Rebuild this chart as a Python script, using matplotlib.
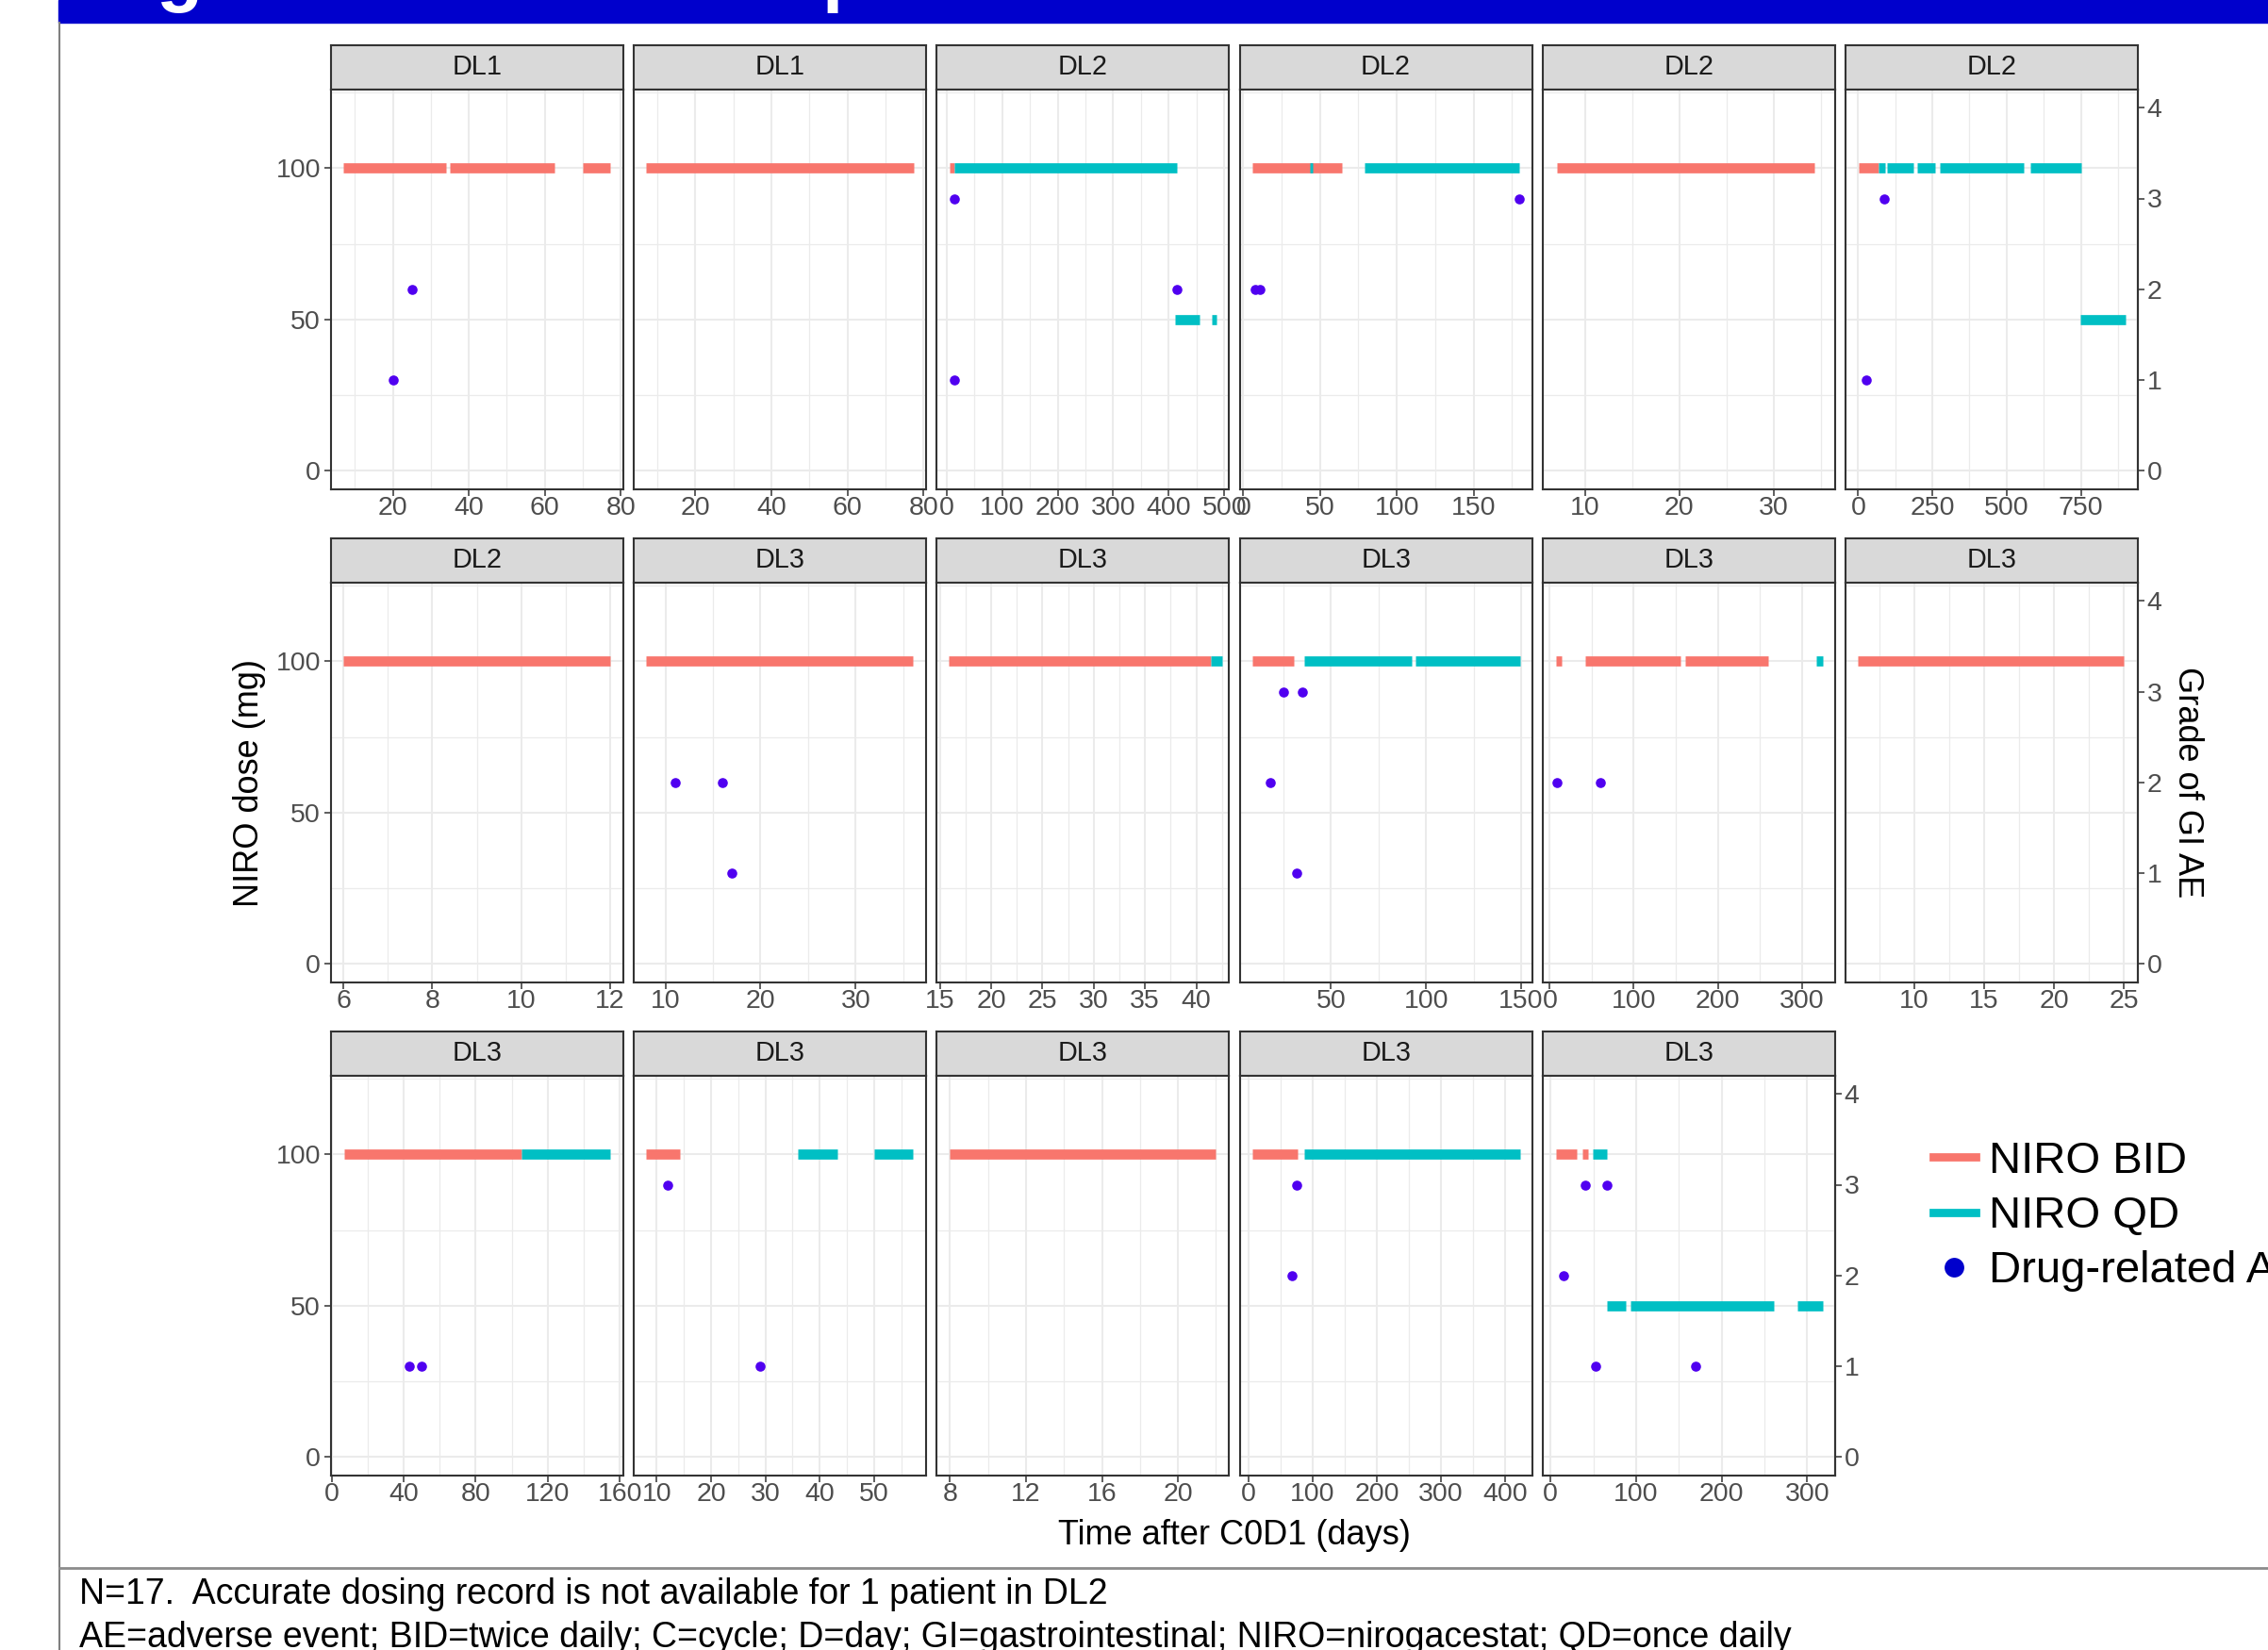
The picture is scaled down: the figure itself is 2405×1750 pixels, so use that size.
import matplotlib
matplotlib.use("Agg")
import matplotlib.pyplot as plt
from matplotlib.lines import Line2D
from matplotlib.patches import Rectangle
import numpy as np

plt.rcParams['font.family'] = ['Liberation Sans', 'DejaVu Sans']

BID_COLOR = '#F8766D'
QD_COLOR = '#00BFC4'
AE_COLOR = '#5000F0'

# one entry per patient panel, left to right, top to bottom
dose_level = ['DL1', 'DL1', 'DL2', 'DL2', 'DL2', 'DL2',
              'DL2', 'DL3', 'DL3', 'DL3', 'DL3', 'DL3',
              'DL3', 'DL3', 'DL3', 'DL3', 'DL3']

# dosing periods: (start day, end day, dose mg)
bid_spans = [
    [(7, 34, 100), (35, 62.5, 100), (70, 77.3, 100)],
    [(7, 77.4, 100)],
    [(5.5, 14, 100)],
    [(6, 64.5, 100)],
    [(7, 34.3, 100)],
    [(1, 69.5, 100)],
    [(6, 12, 100)],
    [(8, 36, 100)],
    [(15.9, 41.4, 100)],
    [(8.7, 30.6, 100)],
    [(7.2, 14.4, 100), (42.4, 155.7, 100), (161.4, 260.4, 100)],
    [(6, 25, 100)],
    [(7, 105.4, 100)],
    [(8, 14.2, 100)],
    [(8, 22, 100)],
    [(5.8, 76.5, 100)],
    [(6.3, 30.9, 100), (37.3, 44.3, 100)],
]
qd_spans = [
    [],
    [],
    [(14, 414, 100), (411, 455, 50), (477, 485.7, 50)],
    [(43.5, 45.5, 100), (79, 180, 100)],
    [],
    [(69.5, 89.7, 100), (98.7, 186.4, 100), (197.8, 259.5, 100),
     (276.4, 556.6, 100), (580, 753, 100), (749, 900, 50)],
    [],
    [],
    [(41.4, 42.5, 100)],
    [(36, 92.3, 100), (94.2, 149.5, 100)],
    [(317.6, 324.8, 100)],
    [],
    [(105.4, 154.6, 100)],
    [(35.9, 43.2, 100), (50, 57.2, 100)],
    [],
    [(86.8, 423.6, 100)],
    [(49.9, 66, 100), (66, 87.8, 50), (93.4, 261, 50), (288.5, 317.7, 50)],
]

# drug-related GI adverse events: onset day and grade
ae_day = [
    [20, 25], [], [14, 15, 414], [8, 11, 180], [], [88, 26],
    [], [11, 16, 17], [], [25, 35, 18, 32], [9, 60], [],
    [43, 50], [12, 29], [], [75, 67], [41, 66, 15, 53, 170],
]
ae_grade = [
    [1, 2], [], [3, 1, 2], [2, 2, 3], [], [3, 1],
    [], [2, 2, 1], [], [3, 3, 2, 1], [2, 2], [],
    [1, 1], [3, 1], [], [3, 2], [3, 3, 2, 1, 1],
]

x_ticks = [
    [20, 40, 60, 80], [20, 40, 60, 80], [0, 100, 200, 300, 400, 500],
    [0, 50, 100, 150], [10, 20, 30], [0, 250, 500, 750],
    [6, 8, 10, 12], [10, 20, 30], [15, 20, 25, 30, 35, 40],
    [50, 100, 150], [0, 100, 200, 300], [10, 15, 20, 25],
    [0, 40, 80, 120, 160], [10, 20, 30, 40, 50], [8, 12, 16, 20],
    [0, 100, 200, 300, 400], [0, 100, 200, 300],
]
x_ranges = [
    (3.7, 80.7), (3.8, 80.75), (-17.4, 508.7), (-2.3, 188.1), (5.5, 36.5), (-42.6, 942),
    (5.72, 12.3), (6.7, 37.4), (14.7, 43.2), (2.0, 155.7), (-8.5, 339.5), (5.1, 26.0),
    (-0.4, 162.0), (5.8, 59.6), (7.3, 22.7), (-14, 442.5), (-9.2, 332.3),
]

GRADE_PER_MG = 1 / 30

W, H = 2405, 1750
fig = plt.figure(figsize=(W / 100, H / 100), dpi=100)


def px_box(left, top, width, height):
    return [left / W, 1 - (top + height) / H, width / W, height / H]


PANEL_W, GAP = 310, 11.2
STRIP_H, PANEL_H, ROW_STEP = 47.5, 423.5, 523
FIRST_LEFT, FIRST_TOP = 351, 47.5
BORDER = '#333333'
TICK_KW = dict(length=5, width=1.1, color=BORDER, labelsize=20.5, labelcolor='#4D4D4D')

n = len(dose_level)
for i in range(n):
    r, c = divmod(i, 6)
    left = FIRST_LEFT + c * (PANEL_W + GAP)
    top = FIRST_TOP + r * ROW_STEP

    # facet strip
    sax = fig.add_axes(px_box(left, top, PANEL_W, STRIP_H))
    sax.set_facecolor('#D9D9D9')
    sax.set_xticks([])
    sax.set_yticks([])
    for s in sax.spines.values():
        s.set_color(BORDER)
        s.set_linewidth(1.5)
    sax.text(0.5, 0.5, dose_level[i], ha='center', va='center',
             fontsize=20.8, color='#1A1A1A', transform=sax.transAxes)

    ax = fig.add_axes(px_box(left, top + STRIP_H, PANEL_W, PANEL_H))
    ax.set_xlim(*x_ranges[i])
    ax.set_ylim(-6, 126)

    ticks = x_ticks[i]
    step = ticks[1] - ticks[0]
    lo, hi = x_ranges[i]
    minors = [t for t in np.arange(ticks[0] - step / 2, ticks[-1] + step, step) if lo < t < hi]
    ax.set_xticks(ticks)
    ax.set_xticks(minors, minor=True)
    ax.set_yticks([0, 50, 100])
    ax.set_yticks([25, 75, 125], minor=True)
    ax.grid(which='major', color='#EBEBEB', linewidth=1.5)
    ax.grid(which='minor', color='#EBEBEB', linewidth=0.9)
    ax.set_axisbelow(True)
    for s in ax.spines.values():
        s.set_color(BORDER)
        s.set_linewidth(1.5)
    ax.tick_params(which='major', **TICK_KW)
    ax.tick_params(axis='x', pad=0.5)
    ax.tick_params(axis='y', pad=3)
    ax.tick_params(which='minor', length=0)
    if c != 0:
        ax.tick_params(axis='y', left=False, labelleft=False)

    for x0, x1, d in bid_spans[i]:
        ax.hlines(d, x0, x1, color=BID_COLOR, linewidth=7.7, capstyle='butt', zorder=2)
    for x0, x1, d in qd_spans[i]:
        ax.hlines(d, x0, x1, color=QD_COLOR, linewidth=7.7, capstyle='butt', zorder=2)
    if ae_day[i]:
        ax.scatter(ae_day[i], np.array(ae_grade[i]) / GRADE_PER_MG, s=58,
                   color=AE_COLOR, linewidths=0, zorder=3)

    if c == 5 or i == n - 1:
        sec = ax.secondary_yaxis('right', functions=(lambda d: d * GRADE_PER_MG,
                                                     lambda g: g / GRADE_PER_MG))
        sec.set_yticks([0, 1, 2, 3, 4])
        sec.tick_params(pad=2, **TICK_KW)
        sec.spines['right'].set_color(BORDER)
        sec.spines['right'].set_linewidth(1.5)

# axis titles
fig.text(264 / W, 1 - 830 / H, 'NIRO dose (mg)', rotation=90, ha='center', va='center', fontsize=26)
fig.text(2320 / W, 1 - 830 / H, 'Grade of GI AE', rotation=270, ha='center', va='center', fontsize=26)
fig.text(1309 / W, 1 - 1628 / H, 'Time after C0D1 (days)', ha='center', va='center', fontsize=26)

# legend
handles = [Line2D([], [], color=BID_COLOR, linewidth=6.3),
           Line2D([], [], color=QD_COLOR, linewidth=6.3),
           Line2D([], [], linestyle='none', marker='o', markersize=15,
                  markerfacecolor='#0000CC', markeredgewidth=0)]
fig.legend(handles, ['NIRO BID', 'NIRO QD', 'Drug-related AE'], loc='upper left',
           bbox_to_anchor=(2050 / W, 1 - 1210 / H), frameon=False, fontsize=34,
           handlelength=0.95, handletextpad=0.3, labelspacing=0.3,
           borderpad=0, borderaxespad=0)

# slide frame: title bar, left rule, footnote rule
fig.patches.append(Rectangle((62 / W, 1 - 24 / H), 1 - 62 / W, 24 / H, color='#0000CC',
                             transform=fig.transFigure, zorder=0))
fig.text(166 / W, 1 + 3 / H, 'g', color='white', fontsize=58, fontweight='bold', va='baseline')
fig.text(872 / W, 1 + 3 / H, 'p', color='white', fontsize=58, fontweight='bold', va='baseline')
fig.add_artist(Line2D([62.5 / W, 62.5 / W], [0, 1 - 24 / H], color='#808080', linewidth=1.5))
fig.add_artist(Line2D([62.5 / W, 1], [1 - 1663 / H, 1 - 1663 / H], color='#8C8C8C', linewidth=2))

fig.text(84 / W, 1 - 1701 / H, 'N=17.  Accurate dosing record is not available for 1 patient in DL2',
         fontsize=27, va='baseline')
fig.text(84 / W, 1 - 1747 / H,
         'AE=adverse event; BID=twice daily; C=cycle; D=day; GI=gastrointestinal; '
         'NIRO=nirogacestat; QD=once daily', fontsize=27, va='baseline')

fig.savefig('out.png', dpi=100)
